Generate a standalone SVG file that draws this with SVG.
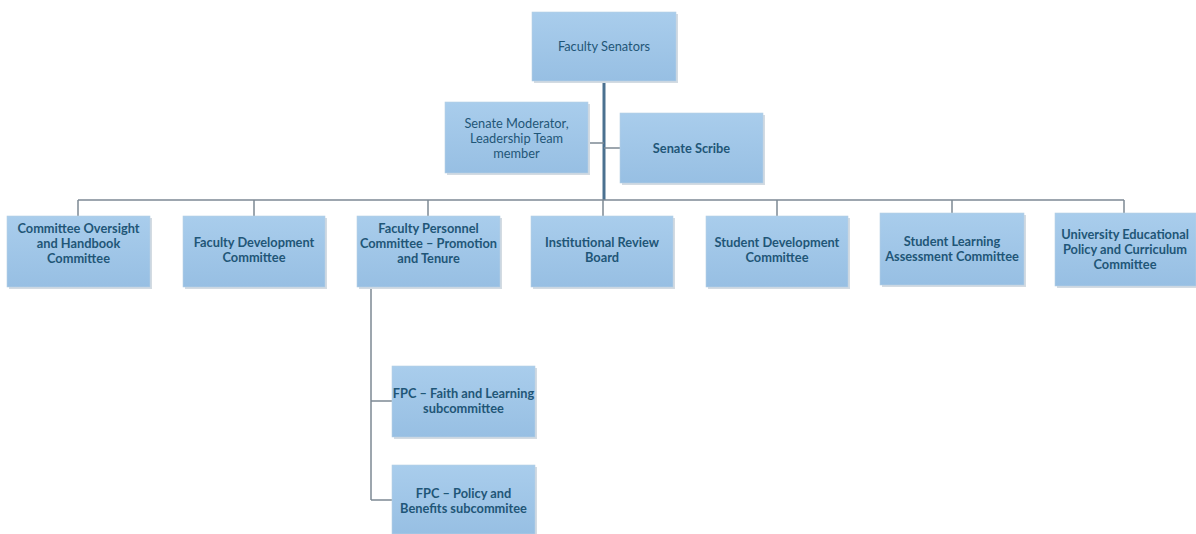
<svg xmlns="http://www.w3.org/2000/svg" width="1196" height="534" viewBox="0 0 1196 534">
<style>
.box{fill:url(#g);stroke:#b7cfe3;stroke-width:0.6}
.sh{fill:#d3dbe2}
.t{font-family:Lato,"Open Sans","Liberation Sans",sans-serif;font-size:12.8px;fill:#1f5677;text-anchor:middle}
.b{font-weight:bold}
.c{fill:none;stroke:#7d8994;stroke-width:1.5}
.m{fill:none;stroke:#4b7190;stroke-width:3}
</style>
<defs>
<linearGradient id="g" x1="0" y1="0" x2="0" y2="1">
<stop offset="0" stop-color="#a9cdec"/>
<stop offset="1" stop-color="#97bfe3"/>
</linearGradient>
</defs>
<rect width="1196" height="534" fill="#ffffff"/>
<g id="connectors">
<path class="m" d="M604 81 V200"/>
<path class="c" d="M588 143 H604 M604 148 H620"/>
<path class="c" d="M78 200 H1124"/>
<path class="c" d="M78 200 V216 M254 200 V216 M428 200 V216 M603 200 V216 M777 200 V216 M952 200 V213 M1124 200 V213"/>
<path class="c" d="M371 287 V500 M371 401 H392 M371 500 H392"/>
</g>
<g id="n-faculty-senators">
<rect class="sh" x="534" y="14" width="144" height="69"/>
<rect class="box" x="532" y="12" width="144" height="69"/>
<text class="t" x="604" y="51">Faculty Senators</text>
</g>
<g id="n-moderator">
<rect class="sh" x="447" y="104" width="143" height="71"/>
<rect class="box" x="445" y="102" width="143" height="71"/>
<text class="t" x="516.5" y="128">Senate Moderator,</text>
<text class="t" x="516.5" y="143">Leadership Team</text>
<text class="t" x="516.5" y="158">member</text>
</g>
<g id="n-scribe">
<rect class="sh" x="622" y="115" width="143" height="70"/>
<rect class="box" x="620" y="113" width="143" height="70"/>
<text class="t b" x="691.5" y="153">Senate Scribe</text>
</g>
<g id="n-oversight">
<rect class="sh" x="9" y="218" width="143" height="71"/>
<rect class="box" x="7" y="216" width="143" height="71"/>
<text class="t b" x="78.5" y="233">Committee Oversight</text>
<text class="t b" x="78.5" y="248">and Handbook</text>
<text class="t b" x="78.5" y="263">Committee</text>
</g>
<g id="n-faculty-dev">
<rect class="sh" x="185" y="218" width="142" height="71"/>
<rect class="box" x="183" y="216" width="142" height="71"/>
<text class="t b" x="254" y="247">Faculty Development</text>
<text class="t b" x="254" y="262">Committee</text>
</g>
<g id="n-fpc">
<rect class="sh" x="359" y="218" width="143" height="71"/>
<rect class="box" x="357" y="216" width="143" height="71"/>
<text class="t b" x="428.5" y="233">Faculty Personnel</text>
<text class="t b" x="428.5" y="248">Committee – Promotion</text>
<text class="t b" x="428.5" y="263">and Tenure</text>
</g>
<g id="n-irb">
<rect class="sh" x="533" y="218" width="142" height="71"/>
<rect class="box" x="531" y="216" width="142" height="71"/>
<text class="t b" x="602" y="247">Institutional Review</text>
<text class="t b" x="602" y="262">Board</text>
</g>
<g id="n-student-dev">
<rect class="sh" x="708" y="218" width="142" height="71"/>
<rect class="box" x="706" y="216" width="142" height="71"/>
<text class="t b" x="777" y="247">Student Development</text>
<text class="t b" x="777" y="262">Committee</text>
</g>
<g id="n-student-learning">
<rect class="sh" x="882" y="215" width="144" height="72"/>
<rect class="box" x="880" y="213" width="144" height="72"/>
<text class="t b" x="952" y="246">Student Learning</text>
<text class="t b" x="952" y="261">Assessment Committee</text>
</g>
<g id="n-university">
<rect class="sh" x="1057" y="215" width="141" height="73"/>
<rect class="box" x="1055" y="213" width="141" height="73"/>
<text class="t b" x="1125" y="239">University Educational</text>
<text class="t b" x="1125" y="254">Policy and Curriculum</text>
<text class="t b" x="1125" y="269">Committee</text>
</g>
<g id="n-fpc-faith">
<rect class="sh" x="394" y="368" width="143" height="71"/>
<rect class="box" x="392" y="366" width="143" height="71"/>
<text class="t b" x="463.5" y="398">FPC – Faith and Learning</text>
<text class="t b" x="463.5" y="413">subcommittee</text>
</g>
<g id="n-fpc-policy">
<rect class="sh" x="394" y="467" width="143" height="69"/>
<rect class="box" x="392" y="465" width="143" height="69"/>
<text class="t b" x="463.5" y="498">FPC – Policy and</text>
<text class="t b" x="463.5" y="513">Benefits subcommitee</text>
</g>
</svg>
